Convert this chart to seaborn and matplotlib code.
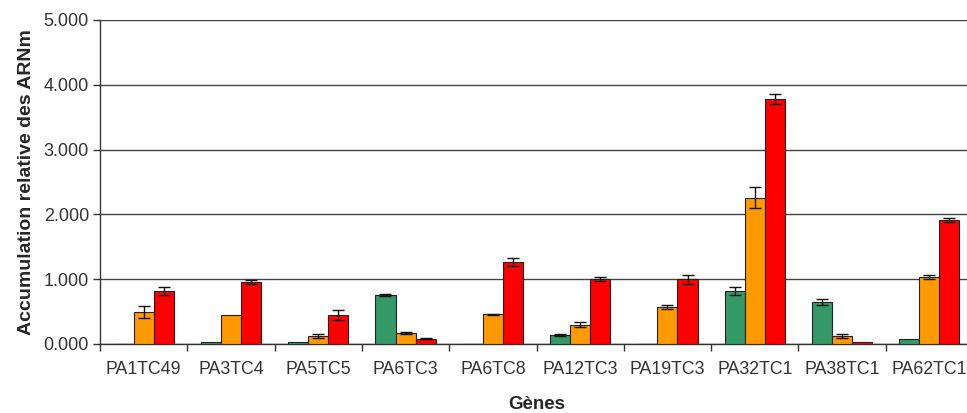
import numpy as np
import pandas as pd
import seaborn as sns
import matplotlib.pyplot as plt
from matplotlib.ticker import FixedLocator, FuncFormatter

genes = ['PA1TC49', 'PA3TC4', 'PA5TC5', 'PA6TC3', 'PA6TC8',
         'PA12TC3', 'PA19TC3', 'PA32TC1', 'PA38TC1', 'PA62TC1']
stages = ['s1', 's2', 's3']

green = [0.00, 0.03, 0.03, 0.755, 0.00, 0.14, 0.00, 0.82, 0.65, 0.07]
orange = [0.49, 0.44, 0.13, 0.17, 0.46, 0.30, 0.565, 2.26, 0.13, 1.03]
red = [0.82, 0.96, 0.45, 0.08, 1.27, 1.00, 1.00, 3.78, 0.03, 1.91]

green_err = [0.00, 0.00, 0.00, 0.02, 0.00, 0.01, 0.00, 0.06, 0.05, 0.00]
orange_err = [0.09, 0.00, 0.03, 0.01, 0.01, 0.04, 0.03, 0.16, 0.03, 0.03]
red_err = [0.06, 0.03, 0.08, 0.01, 0.06, 0.03, 0.07, 0.08, 0.00, 0.03]

colors = ['#339966', '#FF9900', '#FF0000']

df = pd.DataFrame({
    'gene': genes * 3,
    'stage': np.repeat(stages, len(genes)),
    'value': green + orange + red,
})
errs = [green_err, orange_err, red_err]

sns.set_theme(style='white')
plt.rcParams['font.family'] = ['Liberation Sans', 'DejaVu Sans']

fig = plt.figure(figsize=(9.67, 4.13), dpi=100)
ax = fig.add_axes([100 / 967, 69 / 413, 873 / 967, 324 / 413])

sns.barplot(data=df, x='gene', y='value', hue='stage', palette=colors,
            saturation=1, width=0.69, errorbar=None, edgecolor='#222222',
            linewidth=0.8, legend=False, ax=ax, zorder=3)

for cont, err in zip(ax.containers, errs):
    xs = [p.get_x() + p.get_width() / 2 for p in cont.patches]
    ys = [p.get_height() for p in cont.patches]
    e = np.array(err)
    mask = e > 0
    ax.errorbar(np.array(xs)[mask], np.array(ys)[mask], yerr=e[mask],
                fmt='none', ecolor='#111111', elinewidth=1, capsize=4,
                capthick=1, zorder=4)

ax.set_ylim(0, 5)
ax.set_xlim(-0.5, len(genes) - 0.5)
ax.set_yticks([0, 1, 2, 3, 4, 5])
ax.yaxis.set_major_formatter(FuncFormatter(lambda v, p: f'{v:.3f}'))
ax.yaxis.grid(True, color='#444444', linewidth=1)
ax.set_axisbelow(True)

ax.xaxis.set_minor_locator(FixedLocator(np.arange(-0.5, len(genes), 1.0)))
ax.tick_params(axis='x', which='major', length=0, pad=12, labelsize=12.8,
               labelcolor='#333333')
ax.tick_params(axis='x', which='minor', length=5, width=1, color='#333333',
               direction='out', bottom=True)
ax.tick_params(axis='y', length=5, width=1, color='#333333', direction='out',
               left=True, labelsize=13, labelcolor='#333333', pad=3)

for s in ['top', 'right']:
    ax.spines[s].set_visible(False)
for s in ['left', 'bottom']:
    ax.spines[s].set_color('#333333')
    ax.spines[s].set_linewidth(1)

ax.set_xlabel('Gènes', fontsize=13.5, fontweight='bold', labelpad=13)
ax.set_ylabel('Accumulation relative des ARNm', fontsize=14,
              fontweight='bold', labelpad=6)

fig.savefig('out.png', dpi=100)
